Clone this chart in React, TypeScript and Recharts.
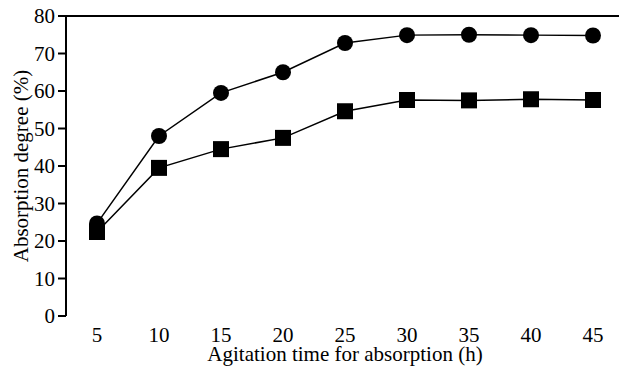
import { LineChart, Line, XAxis, YAxis, ReferenceLine } from 'recharts';

// Agitation time (h)
const hours = [5, 10, 15, 20, 25, 30, 35, 40, 45];
// Absorption degree (%) for the two series
const circleSeries = [24.7, 48.0, 59.5, 65.0, 72.8, 74.9, 75.0, 74.9, 74.8];
const squareSeries = [22.4, 39.5, 44.5, 47.5, 54.6, 57.6, 57.5, 57.8, 57.6];

const yTicks = [0, 10, 20, 30, 40, 50, 60, 70, 80];
const tickMarks = [7.5, 12.5, 17.5, 22.5, 27.5, 32.5, 37.5, 42.5];

const data = hours.map((h, i) => ({ h, a: circleSeries[i], b: squareSeries[i] }));

const txt = { fontFamily: 'Liberation Serif', fontSize: '21px', fill: '#000' };

const XTick = (props: any) => {
  const { x, y, payload } = props;
  return (
    <text x={x} y={y} dy={13} textAnchor="middle" style={txt}>
      {payload.value}
    </text>
  );
};

const YTick = (props: any) => {
  const { x, y, payload } = props;
  return (
    <text x={x} y={y} dy={7} textAnchor="end" style={txt}>
      {payload.value}
    </text>
  );
};

const XTitle = (props: any) => {
  const vb = props.viewBox || {};
  return (
    <text x={vb.x + vb.width / 2} y={vb.y + vb.height - 5} textAnchor="middle" style={txt}>
      Agitation time for absorption (h)
    </text>
  );
};

const YTitle = (props: any) => {
  const vb = props.viewBox || {};
  const cx = vb.x + 21;
  const cy = vb.y + vb.height / 2;
  return (
    <text x={cx} y={cy} dy={7} transform={`rotate(-90 ${cx} ${cy})`} textAnchor="middle" style={txt}>
      Absorption degree (%)
    </text>
  );
};

const SquareDot = (props: any) => {
  const { cx, cy, index } = props;
  if (cx == null || cy == null) return <g key={`s-${index}`} />;
  return <rect key={`s-${index}`} x={cx - 8} y={cy - 8} width={16} height={16} fill="#000" />;
};

export default function App() {
  return (
    <div style={{ position: 'absolute', left: 0, top: 0, width: 619, height: 366, overflow: 'hidden', background: '#fff' }}>
      <LineChart width={640} height={366} data={data} margin={{ top: 16, right: 16, left: 0, bottom: 0 }}>
        {/* tick marks sit between the labels */}
        <XAxis
          xAxisId="marks"
          dataKey="h"
          type="number"
          domain={[2.5, 47.5]}
          ticks={tickMarks}
          tick={false}
          tickSize={7}
          height={0}
          axisLine={{ stroke: '#000', strokeWidth: 2 }}
          tickLine={{ stroke: '#000', strokeWidth: 2 }}
        />
        <XAxis
          xAxisId="lbl"
          dataKey="h"
          type="number"
          domain={[2.5, 47.5]}
          ticks={hours}
          tick={<XTick />}
          tickLine={false}
          axisLine={false}
          tickSize={8}
          tickMargin={5}
          height={50}
          label={<XTitle />}
        />
        <YAxis
          domain={[0, 80]}
          ticks={yTicks}
          width={66}
          tick={<YTick />}
          tickSize={8}
          tickMargin={3}
          axisLine={{ stroke: '#000', strokeWidth: 2 }}
          tickLine={{ stroke: '#000', strokeWidth: 2 }}
          label={<YTitle />}
        />
        <ReferenceLine xAxisId="lbl" y={80} stroke="#000" strokeWidth={2} />
        <Line
          xAxisId="lbl"
          dataKey="a"
          stroke="#000"
          strokeWidth={1.5}
          dot={{ r: 8, fill: '#000', stroke: 'none' }}
          isAnimationActive={false}
        />
        <Line
          xAxisId="lbl"
          dataKey="b"
          stroke="#000"
          strokeWidth={1.5}
          dot={SquareDot}
          isAnimationActive={false}
        />
      </LineChart>
    </div>
  );
}
